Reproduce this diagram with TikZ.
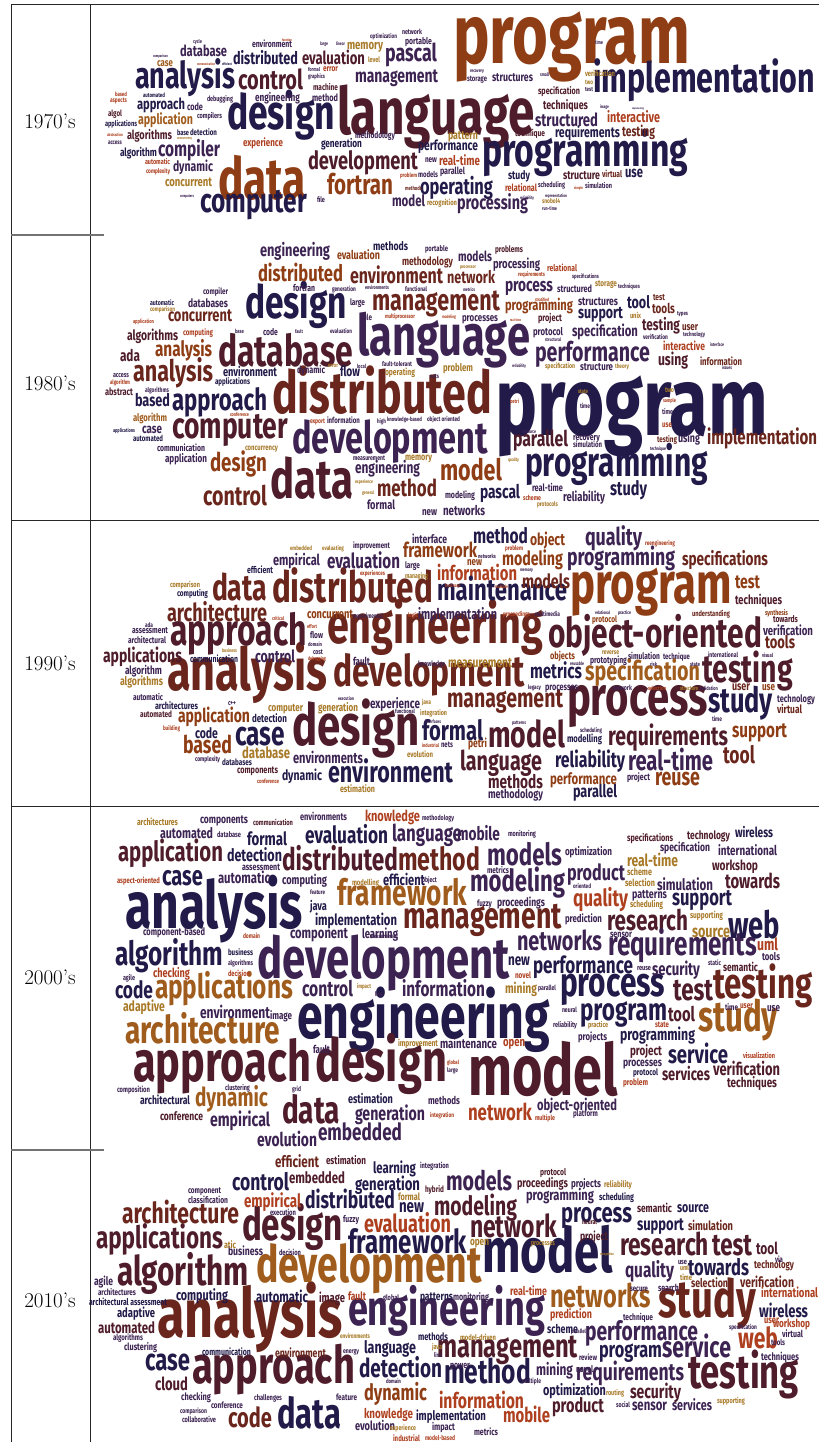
\documentclass[tikz,border=0pt]{standalone}
\usepackage{fontspec}
\usepackage{graphicx}
\newfontfamily\wcf[FakeStretch=0.73]{Fira Sans}
\definecolor{N}{HTML}{221A48}
\definecolor{P}{HTML}{3C2352}
\definecolor{M}{HTML}{4E1C2A}
\definecolor{B}{HTML}{6A261C}
\definecolor{R}{HTML}{8F3D14}
\definecolor{O}{HTML}{A05C1C}
\definecolor{G}{HTML}{A87A28}
\definecolor{E}{HTML}{AE4020}
\newcounter{wcnt}
\newcommand\wrd[5]{\stepcounter{wcnt}\edef\wname{w\the\value{wcnt}}%
  \node[wnode,text=#4] (\wname) at (#1,#2) {\resizebox{#3pt}{!}{\wcf\bfseries #5}};}
\tikzset{wnode/.style={anchor=base west,inner sep=0pt,outer sep=0pt},
  rule/.style={line width=1pt,draw=black!85},
  stub/.style={line width=1.6pt,draw=black!55},
  yearlabel/.style={font=\fontsize{21}{21}\selectfont,inner sep=0pt}}
\begin{document}
\begin{tikzpicture}[x=1pt,y=-1pt]
\useasboundingbox (0,0) rectangle (819,1442);
\fill[white] (0,0) rectangle (819,1442);
% table rules
\draw[rule] (11,5) -- (819,5);
\draw[rule] (11,5) -- (11,1442);
\draw[rule] (90,5) -- (90,1442);
\draw[stub] (11,235) -- (104,235);
\draw[rule] (11,520) -- (819,520);
\draw[rule] (11,806) -- (819,806);
\draw[stub] (11,1150) -- (104,1150);
% year labels
\node[yearlabel] (y1) at (50,121) {1970’s};
\node[yearlabel] (y2) at (50,383) {1980’s};
\node[yearlabel] (y3) at (50,663) {1990’s};
\node[yearlabel] (y4) at (50,977) {2000’s};
\node[yearlabel] (y5) at (50,1300) {2010’s};
% ===== 1970s =====
\wrd{135}{89}{100}{N}{analysis}
\wrd{227}{130}{108}{N}{design}
\wrd{218}{200}{88}{R}{data}
\wrd{337}{135}{198}{M}{language}
\wrd{453}{64}{237}{R}{program}
\wrd{593}{93}{222}{N}{implementation}
\wrd{482}{167}{206}{N}{programming}
\wrd{238}{90}{65}{M}{control}
\wrd{200}{212}{107}{N}{computer}
\wrd{308}{170}{110}{M}{development}
\wrd{327}{195}{66}{R}{fortran}
\wrd{420}{195}{73}{N}{operating}
\wrd{457}{210}{71}{P}{processing}
\wrd{355}{83}{83}{P}{management}
\wrd{385}{62}{52}{P}{pascal}
\wrd{302}{65}{63}{M}{evaluation}
\wrd{233}{65}{65}{N}{distributed}
\wrd{180}{57}{47}{P}{database}
\wrd{158}{157}{62}{P}{compiler}
\wrd{137}{110}{48}{N}{approach}
\wrd{138}{125}{55}{O}{application}
\wrd{127}{140}{45}{M}{algorithms}
\wrd{120}{157}{37}{N}{algorithm}
\wrd{173}{172}{40}{P}{dynamic}
\wrd{165}{187}{47}{G}{concurrent}
\wrd{347}{50}{36}{G}{memory}
\wrd{252}{48}{40}{P}{environment}
\wrd{255}{102}{45}{P}{engineering}
\wrd{312}{102}{26}{P}{method}
\wrd{355}{139}{40}{P}{methodology}
\wrd{321}{148}{41}{N}{generation}
\wrd{243}{147}{40}{E}{experience}
\wrd{418}{151}{60}{N}{performance}
\wrd{439}{166}{41}{E}{real-time}
\wrd{440}{175}{25}{P}{parallel}
\wrd{392}{207}{33}{P}{model}
\wrd{425}{163}{12}{P}{new}
\wrd{418}{178}{20}{P}{models}
\wrd{405}{190}{17}{B}{methods}
\wrd{400}{178}{17}{E}{problem}
\wrd{427}{205}{30}{G}{recognition}
\wrd{317}{203}{8}{P}{file}
\wrd{368}{63}{12}{G}{level}
\wrd{323}{72}{15}{E}{error}
\wrd{313}{91}{25}{M}{machine}
\wrd{187}{111}{16}{P}{code}
\wrd{108}{117}{14}{M}{algol}
\wrd{105}{127}{32}{N}{applications}
\wrd{157}{67}{16}{O}{case}
\wrd{207}{102}{26}{P}{debugging}
\wrd{197}{119}{25}{P}{compilers}
\wrd{190}{136}{27}{N}{detection}
\wrd{177}{136}{12}{N}{base}
\wrd{535}{127}{63}{P}{structured}
\wrd{492}{82}{41}{P}{structures}
\wrd{555}{138}{65}{N}{requirements}
\wrd{622}{137}{33}{B}{testing}
\wrd{607}{123}{53}{E}{interactive}
\wrd{543}{110}{45}{M}{techniques}
\wrd{538}{95}{42}{M}{specification}
\wrd{508}{180}{22}{N}{study}
\wrd{563}{180}{37}{M}{structure}
\wrd{602}{178}{20}{B}{virtual}
\wrd{625}{178}{18}{N}{use}
\wrd{505}{192}{32}{E}{relational}
\wrd{538}{188}{27}{P}{scheduling}
\wrd{585}{188}{27}{P}{simulation}
\wrd{467}{82}{20}{P}{storage}
\wrd{448}{140}{30}{G}{pattern}
\wrd{515}{137}{30}{M}{technique}
\wrd{585}{77}{30}{G}{verification}
\wrd{542}{204}{18}{G}{snobol4}
\wrd{405}{45}{27}{P}{portable}
\wrd{402}{35}{20}{P}{network}
\wrd{370}{39}{27}{P}{optimization}
\wrd{308}{72}{12}{P}{formal}
\wrd{308}{79}{17}{P}{graphics}
\wrd{145}{165}{25}{E}{automatic}
\wrd{146}{173}{24}{E}{complexity}
\wrd{143}{98}{22}{N}{automated}
\wrd{115}{97}{12}{E}{based}
\wrd{110}{103}{17}{E}{aspects}
\wrd{107}{137}{16}{E}{abstraction}
\wrd{108}{145}{14}{P}{access}
\wrd{177}{140}{15}{G}{concurrency}
\wrd{193}{44}{9}{P}{cycle}
\wrd{153}{58}{15}{P}{comparison}
\wrd{197}{66}{18}{E}{communication}
\wrd{222}{66}{10}{N}{efficient}
\wrd{282}{42}{10}{E}{function}
\wrd{320}{46}{8}{P}{large}
\wrd{336}{46}{9}{P}{linear}
\wrd{180}{197}{14}{P}{computers}
\wrd{470}{73}{14}{P}{recovery}
\wrd{540}{77}{9}{P}{small}
\wrd{595}{45}{8}{P}{time}
\wrd{585}{85}{8}{G}{two}
\wrd{585}{92}{8}{P}{test}
\wrd{600}{109}{9}{P}{image}
\wrd{632}{110}{12}{P}{implementing}
\wrd{520}{200}{14}{P}{reliability}
\wrd{545}{197}{22}{P}{representation}
\wrd{542}{210}{15}{P}{run-time}
\wrd{574}{190}{9}{E}{simple}
% ===== 1980s =====
\wrd{495}{435}{273}{N}{program}
\wrd{272}{413}{220}{B}{distributed}
\wrd{357}{355}{173}{P}{language}
\wrd{218}{366}{135}{M}{database}
\wrd{245}{318}{102}{N}{design}
\wrd{292}{453}{196}{P}{development}
\wrd{270}{498}{83}{M}{data}
\wrd{172}{438}{116}{M}{computer}
\wrd{172}{410}{95}{N}{approach}
\wrd{133}{381}{80}{B}{analysis}
\wrd{155}{356}{57}{R}{analysis}
\wrd{372}{310}{128}{B}{management}
\wrd{350}{283}{93}{B}{environment}
\wrd{258}{281}{85}{R}{distributed}
\wrd{260}{256}{70}{P}{engineering}
\wrd{525}{476}{183}{N}{programming}
\wrd{535}{361}{115}{P}{performance}
\wrd{707}{444}{110}{B}{implementation}
\wrd{440}{480}{62}{R}{model}
\wrd{377}{496}{60}{B}{method}
\wrd{210}{471}{57}{R}{design}
\wrd{203}{505}{64}{B}{control}
\wrd{355}{473}{65}{P}{engineering}
\wrd{513}{446}{55}{M}{parallel}
\wrd{480}{498}{40}{N}{pascal}
\wrd{610}{495}{37}{N}{study}
\wrd{563}{501}{42}{P}{reliability}
\wrd{532}{491}{31}{P}{real-time}
\wrd{505}{291}{48}{P}{process}
\wrd{578}{318}{45}{N}{support}
\wrd{572}{336}{66}{P}{specification}
\wrd{505}{310}{68}{R}{programming}
\wrd{642}{330}{38}{M}{testing}
\wrd{658}{365}{30}{M}{using}
\wrd{627}{308}{23}{N}{tool}
\wrd{652}{313}{23}{B}{tools}
\wrd{578}{305}{40}{P}{structures}
\wrd{557}{292}{35}{P}{structured}
\wrd{493}{268}{47}{P}{processing}
\wrd{458}{261}{34}{P}{models}
\wrd{447}{283}{48}{B}{network}
\wrd{495}{252}{28}{M}{problems}
\wrd{547}{271}{30}{E}{relational}
\wrd{663}{350}{42}{E}{interactive}
\wrd{700}{365}{42}{B}{information}
\wrd{682}{330}{16}{B}{user}
\wrd{580}{370}{33}{P}{structure}
\wrd{533}{335}{30}{P}{protocol}
\wrd{462}{321}{36}{P}{processes}
\wrd{538}{321}{24}{M}{project}
\wrd{573}{440}{27}{P}{recovery}
\wrd{573}{447}{29}{P}{simulation}
\wrd{657}{442}{20}{B}{testing}
\wrd{678}{442}{22}{P}{using}
\wrd{443}{371}{30}{G}{problem}
\wrd{537}{506}{21}{G}{protocols}
\wrd{443}{515}{42}{P}{networks}
\wrd{445}{498}{30}{P}{modeling}
\wrd{422}{515}{15}{P}{new}
\wrd{367}{509}{28}{P}{formal}
\wrd{405}{460}{27}{G}{memory}
\wrd{385}{375}{30}{G}{operating}
\wrd{340}{376}{20}{N}{flow}
\wrd{223}{376}{54}{N}{environment}
\wrd{297}{373}{28}{P}{dynamic}
\wrd{168}{321}{64}{B}{concurrent}
\wrd{188}{307}{40}{P}{databases}
\wrd{127}{340}{51}{M}{algorithms}
\wrd{120}{361}{20}{M}{ada}
\wrd{135}{406}{35}{N}{based}
\wrd{142}{433}{20}{P}{case}
\wrd{133}{421}{34}{O}{algorithm}
\wrd{105}{395}{28}{M}{abstract}
\wrd{133}{441}{30}{N}{automated}
\wrd{157}{451}{48}{P}{communication}
\wrd{165}{462}{42}{P}{application}
\wrd{245}{450}{33}{G}{concurrency}
\wrd{327}{423}{33}{P}{information}
\wrd{183}{335}{30}{E}{computing}
\wrd{263}{335}{15}{P}{code}
\wrd{293}{291}{22}{P}{fortran}
\wrd{203}{294}{25}{P}{compiler}
\wrd{337}{259}{43}{R}{evaluation}
\wrd{373}{250}{35}{N}{methods}
\wrd{402}{265}{51}{B}{methodology}
\wrd{425}{251}{23}{P}{portable}
\wrd{363}{320}{9}{P}{file}
\wrd{350}{305}{15}{P}{large}
\wrd{382}{366}{30}{P}{fault-tolerant}
\wrd{387}{421}{35}{P}{knowledge-based}
\wrd{427}{421}{33}{P}{object oriented}
\wrd{353}{460}{32}{P}{measurement}
\wrd{150}{305}{24}{N}{automatic}
\wrd{150}{311}{25}{G}{comparison}
\wrd{133}{323}{21}{E}{application}
\wrd{113}{377}{16}{P}{access}
\wrd{110}{384}{20}{E}{algorithm}
\wrd{145}{392}{24}{P}{algorithms}
\wrd{113}{432}{22}{N}{applications}
\wrd{215}{384}{35}{N}{applications}
\wrd{230}{416}{19}{E}{conference}
\wrd{235}{333}{9}{P}{base}
\wrd{295}{333}{8}{P}{fault}
\wrd{330}{333}{22}{P}{evaluation}
\wrd{332}{291}{24}{P}{generation}
\wrd{365}{289}{24}{P}{environments}
\wrd{405}{291}{22}{P}{functional}
\wrd{385}{318}{30}{E}{multiprocessor}
\wrd{442}{318}{14}{E}{modeling}
\wrd{357}{368}{9}{P}{local}
\wrd{430}{378}{9}{P}{nets}
\wrd{310}{423}{15}{E}{export}
\wrd{377}{423}{9}{P}{high}
\wrd{355}{483}{18}{G}{experience}
\wrd{362}{494}{12}{G}{general}
\wrd{328}{367}{10}{G}{error}
\wrd{512}{367}{14}{P}{reliability}
\wrd{545}{368}{30}{G}{specification}
\wrd{615}{368}{14}{G}{theory}
\wrd{578}{393}{10}{G}{state}
\wrd{510}{403}{9}{E}{petri}
\wrd{580}{408}{10}{P}{time}
\wrd{665}{392}{9}{G}{two}
\wrd{663}{402}{13}{E}{sample}
\wrd{662}{414}{11}{P}{time}
\wrd{662}{427}{10}{E}{use}
\wrd{522}{433}{14}{P}{resource}
\wrd{508}{461}{11}{G}{quality}
\wrd{650}{450}{16}{P}{technique}
\wrd{523}{500}{18}{E}{scheme}
\wrd{677}{315}{11}{P}{types}
\wrd{683}{336}{22}{P}{technology}
\wrd{710}{346}{14}{P}{interface}
\wrd{722}{369}{10}{P}{issues}
\wrd{643}{339}{25}{P}{verification}
\wrd{630}{318}{11}{G}{unix}
\wrd{653}{300}{12}{B}{test}
\wrd{595}{286}{22}{G}{storage}
\wrd{618}{288}{22}{P}{techniques}
\wrd{572}{278}{27}{P}{specifications}
\wrd{518}{276}{27}{E}{requirements}
\wrd{460}{268}{16}{G}{processor}
\wrd{463}{291}{12}{P}{metrics}
\wrd{535}{301}{14}{E}{stratified}
\wrd{510}{321}{11}{E}{real-time}
\wrd{545}{341}{16}{P}{structural}
% ===== 1990s =====
\wrd{167}{690}{160}{B}{analysis}
\wrd{327}{643}{216}{B}{engineering}
\wrd{292}{745}{128}{M}{design}
\wrd{567}{715}{141}{M}{process}
\wrd{570}{603}{162}{R}{program}
\wrd{170}{645}{137}{M}{approach}
\wrd{272}{602}{161}{B}{distributed}
\wrd{333}{686}{192}{B}{development}
\wrd{548}{647}{214}{M}{object-oriented}
\wrd{702}{682}{91}{M}{testing}
\wrd{212}{600}{55}{B}{data}
\wrd{167}{621}{100}{B}{architecture}
\wrd{103}{662}{79}{M}{applications}
\wrd{235}{745}{50}{N}{case}
\wrd{183}{753}{49}{R}{based}
\wrd{178}{722}{72}{R}{application}
\wrd{328}{782}{125}{N}{environment}
\wrd{293}{763}{70}{P}{environments}
\wrd{242}{758}{48}{G}{database}
\wrd{282}{780}{40}{N}{dynamic}
\wrd{195}{738}{23}{N}{code}
\wrd{255}{662}{40}{P}{control}
\wrd{307}{618}{46}{R}{concurrent}
\wrd{327}{568}{73}{P}{evaluation}
\wrd{273}{565}{47}{P}{empirical}
\wrd{247}{573}{26}{N}{efficient}
\wrd{403}{557}{74}{R}{framework}
\wrd{412}{543}{35}{P}{interface}
\wrd{437}{580}{80}{E}{information}
\wrd{437}{600}{130}{N}{maintenance}
\wrd{418}{619}{79}{P}{implementation}
\wrd{447}{707}{116}{B}{management}
\wrd{448}{667}{64}{G}{measurement}
\wrd{530}{678}{52}{N}{metrics}
\wrd{585}{680}{115}{O}{specification}
\wrd{708}{712}{65}{N}{study}
\wrd{488}{747}{77}{M}{model}
\wrd{422}{740}{61}{N}{formal}
\wrd{460}{770}{82}{M}{language}
\wrd{555}{767}{70}{N}{reliability}
\wrd{628}{770}{85}{P}{real-time}
\wrd{608}{745}{120}{M}{requirements}
\wrd{723}{763}{32}{B}{tool}
\wrd{732}{737}{55}{R}{support}
\wrd{655}{785}{45}{R}{reuse}
\wrd{488}{788}{55}{M}{methods}
\wrd{550}{784}{67}{R}{performance}
\wrd{573}{797}{44}{N}{parallel}
\wrd{488}{798}{55}{P}{methodology}
\wrd{585}{545}{57}{P}{quality}
\wrd{473}{543}{55}{N}{method}
\wrd{530}{545}{35}{R}{object}
\wrd{502}{565}{61}{R}{modeling}
\wrd{567}{565}{108}{P}{programming}
\wrd{682}{565}{86}{B}{specifications}
\wrd{522}{588}{48}{B}{models}
\wrd{735}{588}{25}{R}{test}
\wrd{735}{604}{47}{M}{techniques}
\wrd{763}{635}{50}{P}{verification}
\wrd{765}{648}{30}{B}{tools}
\wrd{777}{702}{38}{P}{technology}
\wrd{777}{713}{25}{B}{virtual}
\wrd{732}{690}{18}{B}{user}
\wrd{762}{690}{13}{R}{use}
\wrd{567}{742}{35}{N}{modelling}
\wrd{545}{690}{33}{P}{processes}
\wrd{550}{659}{25}{R}{objects}
\wrd{590}{663}{37}{P}{prototyping}
\wrd{628}{659}{32}{P}{simulation}
\wrd{663}{659}{27}{P}{technique}
\wrd{765}{615}{23}{R}{synthesis}
\wrd{773}{622}{25}{M}{towards}
\wrd{692}{616}{38}{B}{understanding}
\wrd{592}{622}{25}{R}{protocol}
\wrd{468}{747}{19}{R}{petri}
\wrd{467}{565}{15}{R}{new}
\wrd{627}{780}{23}{P}{project}
\wrd{268}{711}{35}{G}{computer}
\wrd{318}{711}{40}{G}{generation}
\wrd{370}{708}{50}{P}{experience}
\wrd{252}{722}{35}{N}{detection}
\wrd{353}{665}{17}{P}{fault}
\wrd{310}{638}{13}{P}{flow}
\wrd{190}{662}{48}{N}{communication}
\wrd{125}{674}{37}{P}{algorithm}
\wrd{120}{685}{43}{G}{algorithms}
\wrd{128}{643}{38}{P}{architectural}
\wrd{132}{633}{36}{P}{assessment}
\wrd{177}{596}{31}{N}{computing}
\wrd{170}{587}{30}{G}{comparison}
\wrd{133}{700}{30}{P}{automatic}
\wrd{155}{709}{43}{N}{architectures}
\wrd{140}{717}{32}{M}{automated}
\wrd{237}{773}{41}{M}{components}
\wrd{222}{765}{30}{N}{databases}
\wrd{340}{792}{35}{G}{estimation}
\wrd{407}{757}{26}{G}{evolution}
\wrd{353}{548}{37}{P}{improvement}
\wrd{405}{568}{15}{P}{large}
\wrd{405}{578}{23}{G}{managing}
\wrd{418}{666}{27}{P}{knowledge}
\wrd{420}{715}{27}{G}{integration}
\wrd{145}{627}{8}{P}{ada}
\wrd{195}{761}{25}{P}{complexity}
\wrd{257}{783}{22}{E}{conference}
\wrd{163}{730}{17}{E}{building}
\wrd{228}{705}{8}{P}{c++}
\wrd{272}{620}{12}{E}{critical}
\wrd{307}{628}{10}{E}{effort}
\wrd{308}{646}{14}{P}{domain}
\wrd{313}{654}{10}{P}{cost}
\wrd{308}{660}{18}{E}{debugging}
\wrd{222}{652}{15}{G}{business}
\wrd{338}{700}{16}{P}{execution}
\wrd{422}{704}{9}{G}{java}
\wrd{395}{713}{20}{P}{functional}
\wrd{425}{723}{16}{P}{interfaces}
\wrd{422}{747}{17}{E}{industrial}
\wrd{441}{747}{12}{P}{nets}
\wrd{353}{618}{30}{P}{experimental}
\wrd{408}{617}{10}{E}{logic}
\wrd{360}{575}{25}{E}{experiences}
\wrd{290}{550}{22}{G}{embedded}
\wrd{322}{550}{22}{G}{evaluating}
\wrd{445}{587}{15}{E}{hardware}
\wrd{505}{550}{18}{E}{problem}
\wrd{478}{558}{18}{P}{networks}
\wrd{520}{571}{13}{P}{memory}
\wrd{495}{588}{13}{E}{multiple}
\wrd{503}{616}{27}{E}{proceedings}
\wrd{535}{616}{25}{P}{multimedia}
\wrd{595}{614}{15}{P}{relational}
\wrd{618}{614}{13}{P}{practice}
\wrd{602}{654}{17}{G}{reverse}
\wrd{570}{665}{14}{P}{reusable}
\wrd{650}{666}{7}{P}{risk}
\wrd{690}{666}{10}{P}{state}
\wrd{708}{657}{30}{P}{international}
\wrd{762}{657}{11}{P}{visual}
\wrd{528}{689}{13}{P}{legacy}
\wrd{612}{690}{20}{P}{network}
\wrd{648}{690}{18}{E}{selection}
\wrd{680}{690}{18}{G}{structure}
\wrd{700}{690}{18}{P}{validation}
\wrd{712}{721}{10}{P}{time}
\wrd{512}{724}{14}{P}{patterns}
\wrd{580}{732}{22}{P}{scheduling}
\wrd{645}{545}{30}{E}{reengineering}
% ===== 2000s =====
\wrd{125}{928}{178}{N}{analysis}
\wrd{257}{978}{253}{P}{development}
\wrd{297}{1038}{253}{N}{engineering}
\wrd{468}{1095}{150}{M}{model}
\wrd{133}{1081}{178}{M}{approach}
\wrd{315}{1081}{132}{M}{design}
\wrd{282}{1123}{58}{M}{data}
\wrd{125}{1043}{155}{O}{architecture}
\wrd{155}{998}{138}{O}{applications}
\wrd{115}{965}{108}{N}{algorithm}
\wrd{118}{861}{105}{M}{application}
\wrd{282}{870}{116}{M}{distributed}
\wrd{398}{870}{82}{B}{method}
\wrd{337}{905}{130}{O}{framework}
\wrd{403}{928}{159}{B}{management}
\wrd{305}{843}{83}{N}{evaluation}
\wrd{392}{841}{70}{P}{language}
\wrd{365}{821}{55}{E}{knowledge}
\wrd{162}{885}{41}{N}{case}
\wrd{227}{861}{55}{N}{detection}
\wrd{247}{845}{40}{N}{formal}
\wrd{160}{838}{53}{P}{automated}
\wrd{200}{823}{48}{P}{components}
\wrd{137}{825}{41}{G}{architectures}
\wrd{253}{825}{40}{M}{communication}
\wrd{300}{820}{47}{P}{environments}
\wrd{218}{883}{52}{P}{automatic}
\wrd{282}{884}{45}{P}{computing}
\wrd{383}{885}{42}{N}{efficient}
\wrd{310}{910}{17}{N}{java}
\wrd{315}{925}{82}{N}{implementation}
\wrd{290}{938}{58}{P}{component}
\wrd{362}{938}{36}{P}{learning}
\wrd{143}{935}{62}{P}{component-based}
\wrd{228}{955}{25}{N}{business}
\wrd{153}{977}{37}{E}{checking}
\wrd{115}{998}{38}{N}{code}
\wrd{123}{1011}{42}{G}{adaptive}
\wrd{302}{996}{51}{P}{control}
\wrd{402}{996}{83}{P}{information}
\wrd{200}{1018}{70}{P}{environment}
\wrd{270}{1019}{22}{P}{image}
\wrd{313}{1053}{17}{P}{fault}
\wrd{195}{1106}{73}{O}{dynamic}
\wrd{140}{1104}{50}{N}{architectural}
\wrd{160}{1120}{43}{M}{conference}
\wrd{210}{1126}{60}{P}{empirical}
\wrd{257}{1146}{60}{P}{evolution}
\wrd{318}{1140}{84}{P}{embedded}
\wrd{355}{1120}{70}{P}{generation}
\wrd{348}{1103}{45}{N}{estimation}
\wrd{428}{1104}{32}{P}{methods}
\wrd{440}{1048}{57}{P}{maintenance}
\wrd{468}{1120}{64}{E}{network}
\wrd{537}{1110}{80}{P}{object-oriented}
\wrd{457}{840}{43}{P}{mobile}
\wrd{487}{865}{75}{P}{models}
\wrd{470}{891}{95}{P}{modeling}
\wrd{567}{880}{58}{P}{product}
\wrd{573}{906}{55}{E}{quality}
\wrd{607}{930}{81}{M}{research}
\wrd{608}{955}{149}{P}{requirements}
\wrd{517}{950}{85}{P}{networks}
\wrd{533}{973}{100}{N}{performance}
\wrd{560}{996}{105}{N}{process}
\wrd{580}{1020}{87}{N}{program}
\wrd{673}{1000}{40}{M}{test}
\wrd{713}{998}{100}{B}{testing}
\wrd{698}{1031}{80}{O}{study}
\wrd{728}{938}{52}{N}{web}
\wrd{672}{905}{60}{N}{support}
\wrd{725}{888}{55}{M}{towards}
\wrd{652}{975}{48}{P}{security}
\wrd{668}{1021}{27}{M}{tool}
\wrd{620}{1040}{75}{N}{programming}
\wrd{668}{1063}{60}{N}{service}
\wrd{662}{1080}{48}{M}{services}
\wrd{713}{1075}{67}{M}{verification}
\wrd{727}{1087}{50}{M}{techniques}
\wrd{692}{937}{38}{G}{source}
\wrd{657}{890}{56}{P}{simulation}
\wrd{627}{866}{51}{G}{real-time}
\wrd{712}{870}{46}{M}{workshop}
\wrd{718}{855}{59}{P}{international}
\wrd{660}{851}{50}{P}{specification}
\wrd{687}{839}{43}{M}{technology}
\wrd{735}{837}{38}{N}{wireless}
\wrd{627}{841}{46}{M}{specifications}
\wrd{565}{855}{47}{P}{optimization}
\wrd{497}{906}{48}{P}{proceedings}
\wrd{565}{922}{37}{P}{prediction}
\wrd{632}{898}{35}{P}{patterns}
\wrd{757}{950}{21}{E}{uml}
\wrd{762}{960}{18}{P}{tools}
\wrd{723}{971}{35}{M}{semantic}
\wrd{767}{1011}{13}{P}{use}
\wrd{508}{965}{22}{N}{new}
\wrd{505}{993}{32}{G}{mining}
\wrd{503}{1046}{22}{E}{open}
\wrd{578}{1040}{29}{P}{projects}
\wrd{630}{1055}{32}{M}{project}
\wrd{623}{1066}{39}{P}{processes}
\wrd{633}{1075}{25}{N}{protocol}
\wrd{623}{1085}{25}{E}{problem}
\wrd{573}{1116}{25}{P}{platform}
\wrd{725}{1010}{13}{P}{time}
\wrd{740}{1008}{13}{E}{user}
\wrd{743}{1058}{32}{E}{visualization}
\wrd{625}{886}{30}{G}{selection}
\wrd{627}{875}{25}{G}{scheme}
\wrd{630}{907}{33}{G}{scheduling}
\wrd{690}{918}{33}{G}{supporting}
\wrd{610}{937}{22}{P}{sensor}
\wrd{637}{970}{14}{P}{reuse}
\wrd{708}{965}{13}{P}{static}
\wrd{508}{836}{28}{P}{monitoring}
\wrd{487}{873}{22}{P}{metrics}
\wrd{573}{888}{18}{P}{oriented}
\wrd{477}{906}{15}{P}{fuzzy}
\wrd{515}{978}{16}{E}{novel}
\wrd{538}{990}{18}{P}{parallel}
\wrd{562}{1012}{15}{P}{neural}
\wrd{553}{1027}{24}{P}{reliability}
\wrd{588}{1027}{20}{G}{practice}
\wrd{655}{1027}{14}{E}{state}
\wrd{447}{1064}{12}{E}{global}
\wrd{447}{1072}{11}{P}{large}
\wrd{535}{1120}{20}{E}{multiple}
\wrd{430}{1117}{24}{E}{integration}
\wrd{398}{1046}{40}{G}{improvement}
\wrd{357}{988}{14}{G}{impact}
\wrd{375}{996}{8}{P}{line}
\wrd{292}{1091}{9}{P}{grid}
\wrd{225}{1090}{25}{P}{clustering}
\wrd{117}{1092}{33}{P}{composition}
\wrd{228}{965}{25}{P}{algorithms}
\wrd{228}{976}{22}{E}{decision}
\wrd{123}{980}{12}{P}{agile}
\wrd{243}{938}{17}{E}{domain}
\wrd{370}{938}{28}{P}{measurement}
\wrd{310}{894}{15}{P}{feature}
\wrd{422}{882}{15}{P}{object}
\wrd{352}{885}{27}{G}{modelling}
\wrd{117}{883}{43}{E}{aspect-oriented}
\wrd{242}{870}{38}{P}{assessment}
\wrd{217}{837}{24}{P}{database}
\wrd{422}{820}{32}{P}{methodology}
% ===== 2010s =====
\wrd{157}{1337}{186}{B}{analysis}
\wrd{192}{1383}{163}{M}{approach}
\wrd{256}{1282}{226}{O}{development}
\wrd{482}{1272}{131}{N}{model}
\wrd{348}{1325}{197}{P}{engineering}
\wrd{658}{1317}{98}{B}{study}
\wrd{688}{1388}{111}{M}{testing}
\wrd{242}{1240}{101}{M}{design}
\wrd{117}{1285}{132}{M}{algorithm}
\wrd{96}{1248}{127}{M}{applications}
\wrd{122}{1223}{117}{B}{architecture}
\wrd{277}{1428}{64}{N}{data}
\wrd{228}{1427}{44}{B}{code}
\wrd{145}{1370}{45}{N}{case}
\wrd{155}{1390}{33}{M}{cloud}
\wrd{348}{1253}{119}{N}{framework}
\wrd{470}{1237}{87}{M}{network}
\wrd{561}{1222}{71}{N}{process}
\wrd{620}{1255}{89}{M}{research}
\wrd{712}{1255}{40}{M}{test}
\wrd{756}{1254}{22}{M}{tool}
\wrd{550}{1307}{101}{O}{networks}
\wrd{437}{1357}{141}{M}{management}
\wrd{444}{1383}{87}{N}{method}
\wrd{359}{1377}{83}{N}{detection}
\wrd{364}{1400}{63}{R}{dynamic}
\wrd{439}{1408}{85}{E}{information}
\wrd{503}{1422}{47}{E}{mobile}
\wrd{364}{1418}{49}{E}{knowledge}
\wrd{416}{1420}{70}{N}{implementation}
\wrd{355}{1430}{40}{P}{evolution}
\wrd{364}{1353}{52}{N}{language}
\wrd{585}{1340}{113}{P}{performance}
\wrd{599}{1357}{63}{N}{program}
\wrd{662}{1357}{69}{P}{service}
\wrd{738}{1348}{40}{E}{web}
\wrd{576}{1380}{108}{P}{requirements}
\wrd{630}{1398}{51}{M}{security}
\wrd{536}{1375}{37}{P}{mining}
\wrd{543}{1395}{63}{N}{optimization}
\wrd{552}{1412}{52}{M}{product}
\wrd{632}{1410}{35}{P}{sensor}
\wrd{672}{1410}{40}{P}{services}
\wrd{625}{1277}{49}{P}{quality}
\wrd{688}{1275}{61}{N}{towards}
\wrd{740}{1287}{54}{B}{verification}
\wrd{761}{1297}{57}{E}{international}
\wrd{759}{1317}{49}{N}{wireless}
\wrd{773}{1327}{37}{E}{workshop}
\wrd{782}{1337}{21}{P}{virtual}
\wrd{761}{1360}{38}{P}{techniques}
\wrd{754}{1268}{40}{B}{technology}
\wrd{691}{1287}{37}{B}{selection}
\wrd{688}{1230}{45}{B}{simulation}
\wrd{637}{1230}{47}{N}{support}
\wrd{637}{1212}{35}{M}{semantic}
\wrd{677}{1212}{32}{N}{source}
\wrd{526}{1200}{68}{P}{programming}
\wrd{599}{1200}{35}{N}{scheduling}
\wrd{517}{1187}{51}{M}{proceedings}
\wrd{571}{1187}{30}{P}{projects}
\wrd{604}{1187}{28}{G}{reliability}
\wrd{540}{1175}{26}{M}{protocol}
\wrd{446}{1190}{66}{P}{models}
\wrd{434}{1215}{83}{M}{modeling}
\wrd{425}{1192}{19}{M}{hybrid}
\wrd{355}{1190}{65}{N}{generation}
\wrd{373}{1173}{43}{N}{learning}
\wrd{420}{1168}{29}{P}{integration}
\wrd{305}{1208}{90}{N}{distributed}
\wrd{398}{1200}{22}{G}{formal}
\wrd{399}{1212}{25}{N}{new}
\wrd{364}{1232}{87}{E}{evaluation}
\wrd{343}{1222}{16}{P}{fuzzy}
\wrd{232}{1190}{57}{N}{control}
\wrd{289}{1183}{56}{M}{embedded}
\wrd{275}{1167}{44}{B}{efficient}
\wrd{326}{1164}{40}{M}{estimation}
\wrd{244}{1207}{57}{E}{empirical}
\wrd{188}{1193}{33}{P}{component}
\wrd{188}{1203}{40}{P}{classification}
\wrd{270}{1215}{26}{P}{execution}
\wrd{228}{1255}{35}{P}{business}
\wrd{279}{1255}{22}{P}{decision}
\wrd{470}{1245}{19}{G}{open}
\wrd{580}{1240}{28}{M}{project}
\wrd{531}{1245}{24}{G}{processes}
\wrd{224}{1248}{12}{G}{atic}
\wrd{94}{1285}{19}{P}{agile}
\wrd{98}{1295}{38}{P}{architectures}
\wrd{89}{1305}{78}{N}{architectural assessment}
\wrd{176}{1300}{52}{N}{computing}
\wrd{256}{1302}{52}{N}{automatic}
\wrd{319}{1302}{26}{M}{image}
\wrd{348}{1300}{18}{E}{fault}
\wrd{383}{1300}{16}{P}{global}
\wrd{420}{1300}{33}{N}{patterns}
\wrd{453}{1300}{36}{P}{monitoring}
\wrd{510}{1295}{37}{E}{real-time}
\wrd{117}{1317}{38}{N}{adaptive}
\wrd{98}{1333}{57}{M}{automated}
\wrd{113}{1340}{30}{P}{algorithms}
\wrd{124}{1350}{33}{P}{clustering}
\wrd{202}{1355}{49}{N}{communication}
\wrd{275}{1357}{51}{B}{environment}
\wrd{343}{1353}{16}{P}{energy}
\wrd{550}{1318}{42}{E}{prediction}
\wrd{547}{1333}{31}{N}{scheme}
\wrd{623}{1320}{30}{P}{technique}
\wrd{181}{1400}{30}{P}{checking}
\wrd{254}{1400}{28}{P}{challenges}
\wrd{336}{1400}{21}{P}{feature}
\wrd{180}{1413}{27}{P}{comparison}
\wrd{211}{1408}{32}{P}{conference}
\wrd{182}{1422}{34}{P}{collaborative}
\wrd{390}{1430}{26}{G}{experience}
\wrd{432}{1430}{23}{P}{impact}
\wrd{474}{1435}{24}{P}{metrics}
\wrd{393}{1441}{27}{E}{industrial}
\wrd{425}{1440}{30}{E}{model-based}
\wrd{579}{1360}{18}{P}{review}
\wrd{576}{1372}{17}{P}{novel}
\wrd{450}{1368}{20}{P}{power}
\wrd{386}{1383}{15}{P}{domain}
\wrd{522}{1383}{19}{P}{multiple}
\wrd{717}{1403}{28}{G}{supporting}
\wrd{616}{1407}{14}{P}{social}
\wrd{606}{1395}{18}{G}{routing}
\wrd{340}{1338}{30}{G}{environments}
\wrd{418}{1340}{30}{N}{methods}
\wrd{460}{1340}{36}{G}{model-driven}
\wrd{432}{1349}{10}{G}{java}
\wrd{434}{1357}{8}{P}{line}
\wrd{571}{1333}{15}{P}{parallel}
\wrd{729}{1329}{28}{P}{specification}
\wrd{771}{1345}{14}{P}{tools}
\wrd{764}{1323}{15}{E}{user}
\wrd{678}{1264}{9}{P}{use}
\wrd{680}{1270}{9}{G}{uml}
\wrd{680}{1280}{12}{G}{time}
\wrd{630}{1291}{18}{P}{secure}
\wrd{658}{1291}{21}{P}{search}
\wrd{775}{1262}{8}{P}{via}
\wrd{582}{1224}{15}{M}{neural}
\wrd{600}{1255}{14}{G}{recognition}
\end{tikzpicture}
\end{document}
